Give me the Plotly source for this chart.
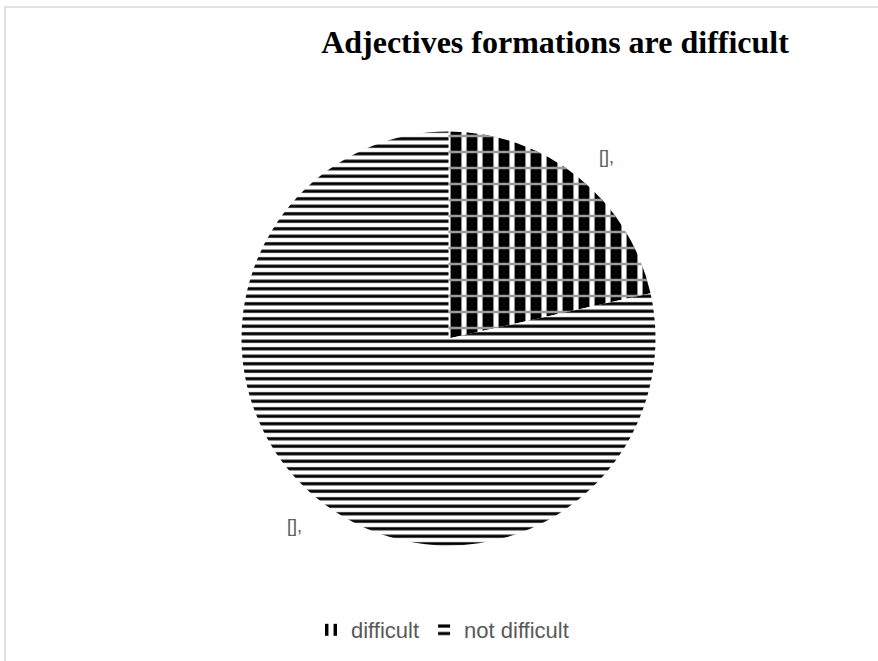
import plotly.graph_objects as go

categories = ["difficult", "not difficult"]
values = [21.5, 78.5]
label_texts = ["[],", "[],"]
title_text = "Adjectives formations are difficult"

W, H = 878, 661
pie_domain = dict(x=[241.5 / W, 655.5 / W], y=[115 / H, 530 / H])

fig = go.Figure()
# base pie: black vertical bars / black horizontal stripes
fig.add_trace(go.Pie(
    labels=categories,
    values=values,
    sort=False,
    direction="clockwise",
    rotation=0,
    textinfo="none",
    hoverinfo="label+value",
    marker=dict(
        colors=["white", "white"],
        line=dict(width=0),
        pattern=dict(
            shape=["|", "-"],
            fgcolor=["black", "black"],
            bgcolor=["white", "white"],
            size=[16, 7.5],
            solidity=[0.68, 0.42],
            fillmode="replace",
        ),
    ),
    domain=pie_domain,
))
# overlay: thin grey horizontal grid on the "difficult" slice only
fig.add_trace(go.Pie(
    labels=categories,
    values=values,
    sort=False,
    direction="clockwise",
    rotation=0,
    textinfo="none",
    hoverinfo="skip",
    showlegend=False,
    marker=dict(
        colors=["rgba(0,0,0,0)", "rgba(0,0,0,0)"],
        line=dict(width=0),
        pattern=dict(
            shape=["-", ""],
            fgcolor=["#9a9a9a", "rgba(0,0,0,0)"],
            bgcolor=["rgba(0,0,0,0)", "rgba(0,0,0,0)"],
            size=[16, 8],
            solidity=[0.16, 0.1],
            fillmode="replace",
        ),
    ),
    domain=pie_domain,
))

# outside data labels
label_pos = [(606, 157), (294, 526)]
for txt, (px, py) in zip(label_texts, label_pos):
    fig.add_annotation(
        x=px / W, y=1 - py / H, xref="paper", yref="paper",
        xanchor="center", yanchor="middle",
        text=txt, showarrow=False,
        font=dict(family="Liberation Sans", size=18, color="#595959"),
    )

# chart border
fig.add_shape(type="rect", xref="paper", yref="paper",
              x0=5 / W, x1=1.1, y0=-0.1, y1=1 - 7 / H,
              line=dict(color="#d9d9d9", width=1.5), fillcolor="rgba(0,0,0,0)")

fig.update_layout(
    width=W, height=H,
    margin=dict(l=0, r=0, t=0, b=0),
    paper_bgcolor="white",
    plot_bgcolor="white",
    title=dict(
        text="<b>" + title_text + "</b>",
        x=555 / W, xanchor="center",
        y=1 - 42 / H, yanchor="middle",
        font=dict(family="Liberation Serif", size=32, color="black"),
    ),
    showlegend=True,
    legend=dict(
        orientation="h",
        x=311 / W, xanchor="left",
        y=1 - 630 / H, yanchor="middle",
        font=dict(family="Liberation Sans", size=22, color="#595959"),
        itemwidth=30,
        traceorder="normal",
    ),
)

fig.write_html("out.html",
               config={"displayModeBar": False},
               post_script="document.body.style.margin='0';document.body.style.overflow='hidden';")
